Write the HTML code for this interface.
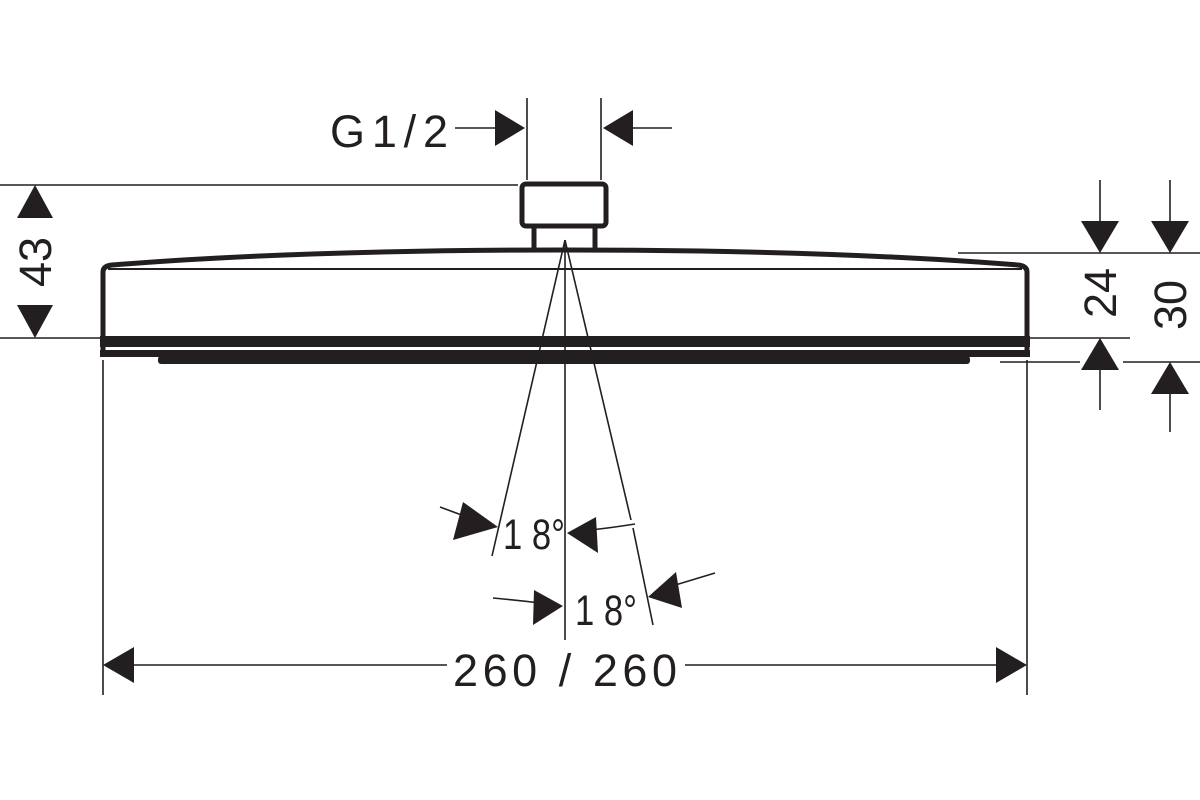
<!DOCTYPE html>
<html><head><style>body{margin:0;background:#fff}svg{display:block}</style></head><body>
<svg width="1200" height="800" viewBox="0 0 1200 800" xmlns="http://www.w3.org/2000/svg">
<g stroke="#231f20" fill="none">
<path d="M103,355 L103,272 Q103,266 112,265 Q300,250 565,250 Q830,250 1018,265 Q1027,266 1027,272 L1027,355" stroke-width="5"/>
<line x1="108" y1="269" x2="1022" y2="269" stroke-width="2"/>
<rect x="522" y="184" width="84" height="42" rx="4" stroke-width="5"/>
<line x1="534" y1="226" x2="534" y2="251" stroke-width="5"/>
<line x1="595" y1="226" x2="595" y2="251" stroke-width="5"/>
<line x1="0" y1="185" x2="518" y2="185" stroke-width="1.6"/>
<line x1="0" y1="338" x2="100" y2="338" stroke-width="1.6"/>
<line x1="527" y1="98" x2="527" y2="180" stroke-width="1.6"/>
<line x1="601" y1="98" x2="601" y2="180" stroke-width="1.6"/>
<line x1="455" y1="128" x2="500" y2="128" stroke-width="1.6"/>
<line x1="630" y1="128" x2="672" y2="128" stroke-width="1.6"/>
<line x1="958" y1="253" x2="1200" y2="253" stroke-width="1.6"/>
<line x1="1030" y1="338" x2="1130" y2="338" stroke-width="1.6"/>
<line x1="1000" y1="362" x2="1080" y2="362" stroke-width="1.6"/>
<line x1="1123" y1="362" x2="1200" y2="362" stroke-width="1.6"/>
<line x1="1100" y1="180" x2="1100" y2="225" stroke-width="1.6"/>
<line x1="1100" y1="365" x2="1100" y2="410" stroke-width="1.6"/>
<line x1="1170" y1="180" x2="1170" y2="225" stroke-width="1.6"/>
<line x1="1170" y1="390" x2="1170" y2="432" stroke-width="1.6"/>
<line x1="103" y1="360" x2="103" y2="695" stroke-width="1.6"/>
<line x1="1027" y1="360" x2="1027" y2="695" stroke-width="1.6"/>
<line x1="130" y1="665" x2="447" y2="665" stroke-width="1.6"/>
<line x1="685" y1="665" x2="1000" y2="665" stroke-width="1.6"/>
<line x1="565" y1="240" x2="565" y2="640" stroke-width="1.6"/>
<line x1="565" y1="240" x2="492" y2="556" stroke-width="1.6"/>
<line x1="565" y1="240" x2="631" y2="520" stroke-width="1.6"/>
<line x1="633" y1="528" x2="653" y2="625" stroke-width="1.6"/>
<path d="M440,507 L475,520" stroke-width="1.6"/>
<path d="M590,530 Q610,528 635,524" stroke-width="1.6"/>
<path d="M493,598 Q515,600 540,603" stroke-width="1.6"/>
<path d="M672,586 L715,573" stroke-width="1.6"/>
</g>
<g fill="#231f20">
<rect x="100" y="336" width="930" height="11"/>
<rect x="100" y="350" width="930" height="7"/>
<rect x="158" y="356" width="812" height="8" rx="3"/>
<polygon points="525,128 495,110 495,146"/>
<polygon points="603,128 633,110 633,146"/>
<polygon points="35,185 17,218 53,218"/>
<polygon points="35,338 17,305 53,305"/>
<polygon points="1100,253 1081,221 1119,221"/>
<polygon points="1100,338 1081,370 1119,370"/>
<polygon points="1170,253 1151,221 1189,221"/>
<polygon points="1170,362 1151,394 1189,394"/>
<polygon points="103,665 134,647 134,683"/>
<polygon points="1027,665 996,647 996,683"/>
<polygon points="498,527 463,502 453,540"/>
<polygon points="567,533 596,517 598,553"/>
<polygon points="563,606 534,590 533,625"/>
<polygon points="648,597 676,572 682,608"/>
</g>
<g font-family="'Liberation Sans', sans-serif" fill="#231f20" font-size="45">
<text x="330" y="147" textLength="118" lengthAdjust="spacing">G1/2</text>
<text x="453" y="686" textLength="224" lengthAdjust="spacing">260 / 260</text>
<text x="503" y="549" font-size="43" textLength="62" lengthAdjust="spacingAndGlyphs">1 8°</text>
<text x="575" y="625" font-size="43" textLength="62" lengthAdjust="spacingAndGlyphs">1 8°</text>
<text transform="translate(51,262) rotate(-90)" text-anchor="middle">43</text>
<text transform="translate(1116,293) rotate(-90)" text-anchor="middle">24</text>
<text transform="translate(1186,305) rotate(-90)" text-anchor="middle">30</text>
</g>
</svg>
</body></html>
